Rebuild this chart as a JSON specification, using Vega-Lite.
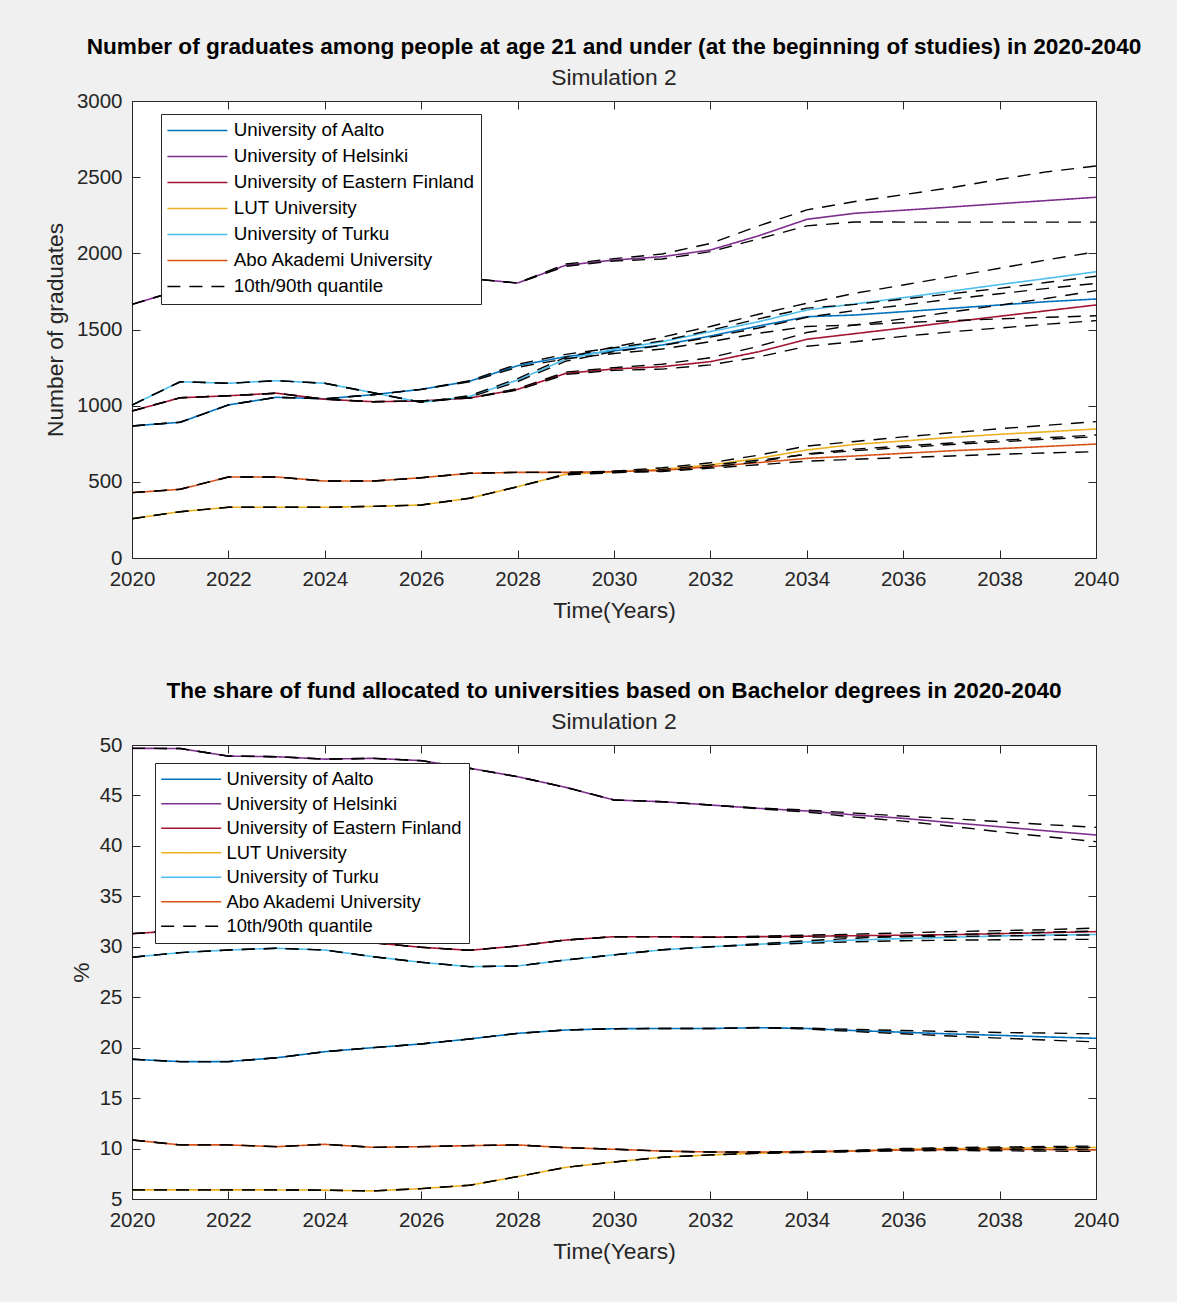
{
"$schema": "https://vega.github.io/schema/vega-lite/v6.json",
"background": "#f0f0f0",
"autosize": {"type": "pad"},
"padding": {"left": 43, "top": 35, "right": 58, "bottom": 46},
"bounds": "flush",
"spacing": 187,
"resolve": {"scale": {"color": "independent", "strokeDash": "independent"}},
"config": {
 "view": {"stroke": "#262626", "strokeWidth": 1, "fill": "white"},
 "axis": {"domain": false, "grid": false, "tickSize": -8, "tickColor": "#262626", "tickWidth": 1, "labelFont": "Liberation Sans", "labelFontSize": 20.5, "labelColor": "#262626", "labelFlush": false, "titleFont": "Liberation Sans", "titleFontSize": 22.8, "titleFontWeight": "normal", "titleColor": "#262626"},
 "axisX": {"labelPadding": 19, "titlePadding": 10},
 "axisY": {"labelPadding": 18, "titlePadding": 6},
 "title": {"font": "Liberation Sans", "fontSize": 22.6, "fontWeight": "bold", "color": "#000000", "subtitleFont": "Liberation Sans", "subtitleFontSize": 22.8, "subtitleColor": "#262626", "anchor": "middle", "frame": "group", "offset": 1, "subtitlePadding": 9},
 "legend": {"labelFont": "Liberation Sans", "labelColor": "#000000", "labelLimit": 400, "fillColor": "white", "strokeColor": "#262626", "cornerRadius": 0}
},
"datasets": {
"g": [
{"n":"University of Aalto","t":2020,"m":867,"lo":867,"hi":867},
{"n":"University of Aalto","t":2021,"m":891,"lo":891,"hi":891},
{"n":"University of Aalto","t":2022,"m":1005,"lo":1005,"hi":1005},
{"n":"University of Aalto","t":2023,"m":1055,"lo":1055,"hi":1055},
{"n":"University of Aalto","t":2024,"m":1045,"lo":1045,"hi":1045},
{"n":"University of Aalto","t":2025,"m":1072,"lo":1072,"hi":1072},
{"n":"University of Aalto","t":2026,"m":1107,"lo":1107,"hi":1107},
{"n":"University of Aalto","t":2027,"m":1160,"lo":1156,"hi":1164},
{"n":"University of Aalto","t":2028,"m":1262,"lo":1252,"hi":1272},
{"n":"University of Aalto","t":2029,"m":1322,"lo":1308,"hi":1337},
{"n":"University of Aalto","t":2030,"m":1360,"lo":1342,"hi":1380},
{"n":"University of Aalto","t":2031,"m":1398,"lo":1372,"hi":1425},
{"n":"University of Aalto","t":2032,"m":1457,"lo":1420,"hi":1495},
{"n":"University of Aalto","t":2033,"m":1523,"lo":1475,"hi":1570},
{"n":"University of Aalto","t":2034,"m":1584,"lo":1520,"hi":1640},
{"n":"University of Aalto","t":2035,"m":1595,"lo":1530,"hi":1665},
{"n":"University of Aalto","t":2036,"m":1617,"lo":1545,"hi":1700},
{"n":"University of Aalto","t":2037,"m":1639,"lo":1558,"hi":1735},
{"n":"University of Aalto","t":2038,"m":1661,"lo":1570,"hi":1770},
{"n":"University of Aalto","t":2039,"m":1683,"lo":1580,"hi":1810},
{"n":"University of Aalto","t":2040,"m":1700,"lo":1590,"hi":1850},
{"n":"University of Helsinki","t":2020,"m":1665,"lo":1665,"hi":1665},
{"n":"University of Helsinki","t":2021,"m":1760,"lo":1760,"hi":1760},
{"n":"University of Helsinki","t":2022,"m":1775,"lo":1775,"hi":1775},
{"n":"University of Helsinki","t":2023,"m":1785,"lo":1785,"hi":1785},
{"n":"University of Helsinki","t":2024,"m":1790,"lo":1790,"hi":1790},
{"n":"University of Helsinki","t":2025,"m":1790,"lo":1790,"hi":1790},
{"n":"University of Helsinki","t":2026,"m":1800,"lo":1800,"hi":1800},
{"n":"University of Helsinki","t":2027,"m":1835,"lo":1835,"hi":1835},
{"n":"University of Helsinki","t":2028,"m":1805,"lo":1805,"hi":1805},
{"n":"University of Helsinki","t":2029,"m":1922,"lo":1915,"hi":1930},
{"n":"University of Helsinki","t":2030,"m":1956,"lo":1950,"hi":1965},
{"n":"University of Helsinki","t":2031,"m":1978,"lo":1963,"hi":1996},
{"n":"University of Helsinki","t":2032,"m":2022,"lo":2011,"hi":2065},
{"n":"University of Helsinki","t":2033,"m":2115,"lo":2095,"hi":2180},
{"n":"University of Helsinki","t":2034,"m":2223,"lo":2180,"hi":2285},
{"n":"University of Helsinki","t":2035,"m":2263,"lo":2206,"hi":2340},
{"n":"University of Helsinki","t":2036,"m":2283,"lo":2205,"hi":2385},
{"n":"University of Helsinki","t":2037,"m":2304,"lo":2205,"hi":2431},
{"n":"University of Helsinki","t":2038,"m":2326,"lo":2205,"hi":2486},
{"n":"University of Helsinki","t":2039,"m":2347,"lo":2205,"hi":2536},
{"n":"University of Helsinki","t":2040,"m":2368,"lo":2205,"hi":2573},
{"n":"University of Eastern Finland","t":2020,"m":965,"lo":965,"hi":965},
{"n":"University of Eastern Finland","t":2021,"m":1052,"lo":1052,"hi":1052},
{"n":"University of Eastern Finland","t":2022,"m":1065,"lo":1065,"hi":1065},
{"n":"University of Eastern Finland","t":2023,"m":1082,"lo":1082,"hi":1082},
{"n":"University of Eastern Finland","t":2024,"m":1042,"lo":1042,"hi":1042},
{"n":"University of Eastern Finland","t":2025,"m":1026,"lo":1026,"hi":1026},
{"n":"University of Eastern Finland","t":2026,"m":1031,"lo":1031,"hi":1031},
{"n":"University of Eastern Finland","t":2027,"m":1050,"lo":1050,"hi":1050},
{"n":"University of Eastern Finland","t":2028,"m":1107,"lo":1102,"hi":1112},
{"n":"University of Eastern Finland","t":2029,"m":1212,"lo":1205,"hi":1220},
{"n":"University of Eastern Finland","t":2030,"m":1241,"lo":1232,"hi":1250},
{"n":"University of Eastern Finland","t":2031,"m":1256,"lo":1240,"hi":1272},
{"n":"University of Eastern Finland","t":2032,"m":1289,"lo":1268,"hi":1315},
{"n":"University of Eastern Finland","t":2033,"m":1354,"lo":1320,"hi":1390},
{"n":"University of Eastern Finland","t":2034,"m":1436,"lo":1390,"hi":1480},
{"n":"University of Eastern Finland","t":2035,"m":1473,"lo":1420,"hi":1530},
{"n":"University of Eastern Finland","t":2036,"m":1510,"lo":1455,"hi":1570},
{"n":"University of Eastern Finland","t":2037,"m":1549,"lo":1485,"hi":1615},
{"n":"University of Eastern Finland","t":2038,"m":1587,"lo":1510,"hi":1660},
{"n":"University of Eastern Finland","t":2039,"m":1624,"lo":1535,"hi":1705},
{"n":"University of Eastern Finland","t":2040,"m":1661,"lo":1558,"hi":1755},
{"n":"LUT University","t":2020,"m":258,"lo":258,"hi":258},
{"n":"LUT University","t":2021,"m":304,"lo":304,"hi":304},
{"n":"LUT University","t":2022,"m":333,"lo":333,"hi":333},
{"n":"LUT University","t":2023,"m":333,"lo":333,"hi":333},
{"n":"LUT University","t":2024,"m":333,"lo":333,"hi":333},
{"n":"LUT University","t":2025,"m":339,"lo":339,"hi":339},
{"n":"LUT University","t":2026,"m":348,"lo":348,"hi":348},
{"n":"LUT University","t":2027,"m":392,"lo":392,"hi":392},
{"n":"LUT University","t":2028,"m":468,"lo":468,"hi":468},
{"n":"LUT University","t":2029,"m":549,"lo":546,"hi":552},
{"n":"LUT University","t":2030,"m":565,"lo":560,"hi":570},
{"n":"LUT University","t":2031,"m":582,"lo":572,"hi":592},
{"n":"LUT University","t":2032,"m":611,"lo":597,"hi":625},
{"n":"LUT University","t":2033,"m":654,"lo":632,"hi":675},
{"n":"LUT University","t":2034,"m":709,"lo":683,"hi":735},
{"n":"LUT University","t":2035,"m":746,"lo":715,"hi":765},
{"n":"LUT University","t":2036,"m":768,"lo":735,"hi":795},
{"n":"LUT University","t":2037,"m":792,"lo":755,"hi":822},
{"n":"LUT University","t":2038,"m":812,"lo":772,"hi":849},
{"n":"LUT University","t":2039,"m":829,"lo":790,"hi":872},
{"n":"LUT University","t":2040,"m":847,"lo":807,"hi":895},
{"n":"University of Turku","t":2020,"m":1004,"lo":1004,"hi":1004},
{"n":"University of Turku","t":2021,"m":1157,"lo":1157,"hi":1157},
{"n":"University of Turku","t":2022,"m":1147,"lo":1147,"hi":1147},
{"n":"University of Turku","t":2023,"m":1164,"lo":1164,"hi":1164},
{"n":"University of Turku","t":2024,"m":1147,"lo":1147,"hi":1147},
{"n":"University of Turku","t":2025,"m":1085,"lo":1085,"hi":1085},
{"n":"University of Turku","t":2026,"m":1022,"lo":1022,"hi":1022},
{"n":"University of Turku","t":2027,"m":1060,"lo":1055,"hi":1065},
{"n":"University of Turku","t":2028,"m":1168,"lo":1158,"hi":1178},
{"n":"University of Turku","t":2029,"m":1305,"lo":1292,"hi":1318},
{"n":"University of Turku","t":2030,"m":1370,"lo":1355,"hi":1385},
{"n":"University of Turku","t":2031,"m":1420,"lo":1395,"hi":1450},
{"n":"University of Turku","t":2032,"m":1486,"lo":1450,"hi":1520},
{"n":"University of Turku","t":2033,"m":1551,"lo":1510,"hi":1600},
{"n":"University of Turku","t":2034,"m":1628,"lo":1580,"hi":1672},
{"n":"University of Turku","t":2035,"m":1668,"lo":1625,"hi":1738},
{"n":"University of Turku","t":2036,"m":1709,"lo":1660,"hi":1792},
{"n":"University of Turku","t":2037,"m":1752,"lo":1700,"hi":1847},
{"n":"University of Turku","t":2038,"m":1795,"lo":1735,"hi":1902},
{"n":"University of Turku","t":2039,"m":1836,"lo":1770,"hi":1958},
{"n":"University of Turku","t":2040,"m":1879,"lo":1803,"hi":2010},
{"n":"Abo Akademi University","t":2020,"m":429,"lo":429,"hi":429},
{"n":"Abo Akademi University","t":2021,"m":451,"lo":451,"hi":451},
{"n":"Abo Akademi University","t":2022,"m":532,"lo":532,"hi":532},
{"n":"Abo Akademi University","t":2023,"m":532,"lo":532,"hi":532},
{"n":"Abo Akademi University","t":2024,"m":505,"lo":505,"hi":505},
{"n":"Abo Akademi University","t":2025,"m":505,"lo":505,"hi":505},
{"n":"Abo Akademi University","t":2026,"m":527,"lo":527,"hi":527},
{"n":"Abo Akademi University","t":2027,"m":556,"lo":556,"hi":556},
{"n":"Abo Akademi University","t":2028,"m":562,"lo":562,"hi":562},
{"n":"Abo Akademi University","t":2029,"m":562,"lo":562,"hi":562},
{"n":"Abo Akademi University","t":2030,"m":567,"lo":563,"hi":570},
{"n":"Abo Akademi University","t":2031,"m":575,"lo":568,"hi":582},
{"n":"Abo Akademi University","t":2032,"m":600,"lo":590,"hi":610},
{"n":"Abo Akademi University","t":2033,"m":626,"lo":612,"hi":642},
{"n":"Abo Akademi University","t":2034,"m":654,"lo":636,"hi":680},
{"n":"Abo Akademi University","t":2035,"m":670,"lo":648,"hi":705},
{"n":"Abo Akademi University","t":2036,"m":687,"lo":659,"hi":725},
{"n":"Abo Akademi University","t":2037,"m":704,"lo":670,"hi":745},
{"n":"Abo Akademi University","t":2038,"m":718,"lo":681,"hi":762},
{"n":"Abo Akademi University","t":2039,"m":733,"lo":690,"hi":780},
{"n":"Abo Akademi University","t":2040,"m":748,"lo":698,"hi":796}
],
"s": [
{"n":"University of Aalto","t":2020,"m":18.85,"lo":18.85,"hi":18.85},
{"n":"University of Aalto","t":2021,"m":18.62,"lo":18.62,"hi":18.62},
{"n":"University of Aalto","t":2022,"m":18.62,"lo":18.62,"hi":18.62},
{"n":"University of Aalto","t":2023,"m":19.0,"lo":19.0,"hi":19.0},
{"n":"University of Aalto","t":2024,"m":19.6,"lo":19.6,"hi":19.6},
{"n":"University of Aalto","t":2025,"m":20.0,"lo":20.0,"hi":20.0},
{"n":"University of Aalto","t":2026,"m":20.37,"lo":20.37,"hi":20.37},
{"n":"University of Aalto","t":2027,"m":20.86,"lo":20.86,"hi":20.86},
{"n":"University of Aalto","t":2028,"m":21.42,"lo":21.42,"hi":21.42},
{"n":"University of Aalto","t":2029,"m":21.75,"lo":21.75,"hi":21.75},
{"n":"University of Aalto","t":2030,"m":21.88,"lo":21.88,"hi":21.88},
{"n":"University of Aalto","t":2031,"m":21.9,"lo":21.9,"hi":21.9},
{"n":"University of Aalto","t":2032,"m":21.9,"lo":21.9,"hi":21.9},
{"n":"University of Aalto","t":2033,"m":21.98,"lo":21.96,"hi":22.0},
{"n":"University of Aalto","t":2034,"m":21.9,"lo":21.85,"hi":21.95},
{"n":"University of Aalto","t":2035,"m":21.69,"lo":21.6,"hi":21.8},
{"n":"University of Aalto","t":2036,"m":21.53,"lo":21.38,"hi":21.7},
{"n":"University of Aalto","t":2037,"m":21.36,"lo":21.15,"hi":21.6},
{"n":"University of Aalto","t":2038,"m":21.22,"lo":20.95,"hi":21.5},
{"n":"University of Aalto","t":2039,"m":21.06,"lo":20.75,"hi":21.45},
{"n":"University of Aalto","t":2040,"m":20.93,"lo":20.57,"hi":21.36},
{"n":"University of Helsinki","t":2020,"m":49.67,"lo":49.67,"hi":49.67},
{"n":"University of Helsinki","t":2021,"m":49.65,"lo":49.65,"hi":49.65},
{"n":"University of Helsinki","t":2022,"m":48.9,"lo":48.9,"hi":48.9},
{"n":"University of Helsinki","t":2023,"m":48.84,"lo":48.84,"hi":48.84},
{"n":"University of Helsinki","t":2024,"m":48.6,"lo":48.6,"hi":48.6},
{"n":"University of Helsinki","t":2025,"m":48.68,"lo":48.68,"hi":48.68},
{"n":"University of Helsinki","t":2026,"m":48.45,"lo":48.45,"hi":48.45},
{"n":"University of Helsinki","t":2027,"m":47.7,"lo":47.7,"hi":47.7},
{"n":"University of Helsinki","t":2028,"m":46.86,"lo":46.86,"hi":46.86},
{"n":"University of Helsinki","t":2029,"m":45.8,"lo":45.8,"hi":45.8},
{"n":"University of Helsinki","t":2030,"m":44.55,"lo":44.55,"hi":44.55},
{"n":"University of Helsinki","t":2031,"m":44.38,"lo":44.38,"hi":44.38},
{"n":"University of Helsinki","t":2032,"m":44.05,"lo":44.05,"hi":44.05},
{"n":"University of Helsinki","t":2033,"m":43.72,"lo":43.68,"hi":43.75},
{"n":"University of Helsinki","t":2034,"m":43.46,"lo":43.35,"hi":43.55},
{"n":"University of Helsinki","t":2035,"m":43.06,"lo":42.85,"hi":43.25},
{"n":"University of Helsinki","t":2036,"m":42.73,"lo":42.45,"hi":42.95},
{"n":"University of Helsinki","t":2037,"m":42.3,"lo":41.95,"hi":42.7},
{"n":"University of Helsinki","t":2038,"m":41.9,"lo":41.4,"hi":42.4},
{"n":"University of Helsinki","t":2039,"m":41.48,"lo":40.9,"hi":42.1},
{"n":"University of Helsinki","t":2040,"m":41.08,"lo":40.42,"hi":41.84},
{"n":"University of Eastern Finland","t":2020,"m":31.3,"lo":31.3,"hi":31.3},
{"n":"University of Eastern Finland","t":2021,"m":31.6,"lo":31.6,"hi":31.6},
{"n":"University of Eastern Finland","t":2022,"m":31.6,"lo":31.6,"hi":31.6},
{"n":"University of Eastern Finland","t":2023,"m":31.3,"lo":31.3,"hi":31.3},
{"n":"University of Eastern Finland","t":2024,"m":30.9,"lo":30.9,"hi":30.9},
{"n":"University of Eastern Finland","t":2025,"m":30.4,"lo":30.4,"hi":30.4},
{"n":"University of Eastern Finland","t":2026,"m":29.95,"lo":29.95,"hi":29.95},
{"n":"University of Eastern Finland","t":2027,"m":29.65,"lo":29.65,"hi":29.65},
{"n":"University of Eastern Finland","t":2028,"m":30.08,"lo":30.08,"hi":30.08},
{"n":"University of Eastern Finland","t":2029,"m":30.67,"lo":30.67,"hi":30.67},
{"n":"University of Eastern Finland","t":2030,"m":31.0,"lo":31.0,"hi":31.0},
{"n":"University of Eastern Finland","t":2031,"m":31.0,"lo":31.0,"hi":31.0},
{"n":"University of Eastern Finland","t":2032,"m":30.95,"lo":30.95,"hi":30.95},
{"n":"University of Eastern Finland","t":2033,"m":31.0,"lo":30.95,"hi":31.05},
{"n":"University of Eastern Finland","t":2034,"m":31.05,"lo":30.95,"hi":31.15},
{"n":"University of Eastern Finland","t":2035,"m":31.1,"lo":30.98,"hi":31.25},
{"n":"University of Eastern Finland","t":2036,"m":31.15,"lo":31.0,"hi":31.38},
{"n":"University of Eastern Finland","t":2037,"m":31.2,"lo":31.02,"hi":31.5},
{"n":"University of Eastern Finland","t":2038,"m":31.3,"lo":31.08,"hi":31.6},
{"n":"University of Eastern Finland","t":2039,"m":31.4,"lo":31.12,"hi":31.7},
{"n":"University of Eastern Finland","t":2040,"m":31.5,"lo":31.18,"hi":31.85},
{"n":"LUT University","t":2020,"m":5.9,"lo":5.9,"hi":5.9},
{"n":"LUT University","t":2021,"m":5.9,"lo":5.9,"hi":5.9},
{"n":"LUT University","t":2022,"m":5.9,"lo":5.9,"hi":5.9},
{"n":"LUT University","t":2023,"m":5.9,"lo":5.9,"hi":5.9},
{"n":"LUT University","t":2024,"m":5.88,"lo":5.88,"hi":5.88},
{"n":"LUT University","t":2025,"m":5.8,"lo":5.8,"hi":5.8},
{"n":"LUT University","t":2026,"m":6.03,"lo":6.03,"hi":6.03},
{"n":"LUT University","t":2027,"m":6.36,"lo":6.36,"hi":6.36},
{"n":"LUT University","t":2028,"m":7.22,"lo":7.22,"hi":7.22},
{"n":"LUT University","t":2029,"m":8.14,"lo":8.14,"hi":8.14},
{"n":"LUT University","t":2030,"m":8.67,"lo":8.67,"hi":8.67},
{"n":"LUT University","t":2031,"m":9.14,"lo":9.14,"hi":9.14},
{"n":"LUT University","t":2032,"m":9.37,"lo":9.37,"hi":9.37},
{"n":"LUT University","t":2033,"m":9.54,"lo":9.52,"hi":9.56},
{"n":"LUT University","t":2034,"m":9.66,"lo":9.62,"hi":9.7},
{"n":"LUT University","t":2035,"m":9.76,"lo":9.7,"hi":9.82},
{"n":"LUT University","t":2036,"m":9.93,"lo":9.85,"hi":10.0},
{"n":"LUT University","t":2037,"m":10.0,"lo":9.9,"hi":10.1},
{"n":"LUT University","t":2038,"m":10.03,"lo":9.9,"hi":10.15},
{"n":"LUT University","t":2039,"m":10.08,"lo":9.92,"hi":10.2},
{"n":"LUT University","t":2040,"m":10.1,"lo":9.95,"hi":10.25},
{"n":"University of Turku","t":2020,"m":28.96,"lo":28.96,"hi":28.96},
{"n":"University of Turku","t":2021,"m":29.42,"lo":29.42,"hi":29.42},
{"n":"University of Turku","t":2022,"m":29.68,"lo":29.68,"hi":29.68},
{"n":"University of Turku","t":2023,"m":29.85,"lo":29.85,"hi":29.85},
{"n":"University of Turku","t":2024,"m":29.68,"lo":29.68,"hi":29.68},
{"n":"University of Turku","t":2025,"m":29.02,"lo":29.02,"hi":29.02},
{"n":"University of Turku","t":2026,"m":28.46,"lo":28.46,"hi":28.46},
{"n":"University of Turku","t":2027,"m":28.03,"lo":28.03,"hi":28.03},
{"n":"University of Turku","t":2028,"m":28.1,"lo":28.1,"hi":28.1},
{"n":"University of Turku","t":2029,"m":28.69,"lo":28.69,"hi":28.69},
{"n":"University of Turku","t":2030,"m":29.2,"lo":29.2,"hi":29.2},
{"n":"University of Turku","t":2031,"m":29.7,"lo":29.7,"hi":29.7},
{"n":"University of Turku","t":2032,"m":30.0,"lo":30.0,"hi":30.0},
{"n":"University of Turku","t":2033,"m":30.25,"lo":30.2,"hi":30.3},
{"n":"University of Turku","t":2034,"m":30.48,"lo":30.35,"hi":30.6},
{"n":"University of Turku","t":2035,"m":30.67,"lo":30.5,"hi":30.85},
{"n":"University of Turku","t":2036,"m":30.81,"lo":30.6,"hi":31.05},
{"n":"University of Turku","t":2037,"m":30.94,"lo":30.65,"hi":31.2},
{"n":"University of Turku","t":2038,"m":31.07,"lo":30.7,"hi":31.35},
{"n":"University of Turku","t":2039,"m":31.17,"lo":30.72,"hi":31.45},
{"n":"University of Turku","t":2040,"m":31.22,"lo":30.74,"hi":31.55},
{"n":"Abo Akademi University","t":2020,"m":10.85,"lo":10.85,"hi":10.85},
{"n":"Abo Akademi University","t":2021,"m":10.36,"lo":10.36,"hi":10.36},
{"n":"Abo Akademi University","t":2022,"m":10.36,"lo":10.36,"hi":10.36},
{"n":"Abo Akademi University","t":2023,"m":10.19,"lo":10.19,"hi":10.19},
{"n":"Abo Akademi University","t":2024,"m":10.42,"lo":10.42,"hi":10.42},
{"n":"Abo Akademi University","t":2025,"m":10.12,"lo":10.12,"hi":10.12},
{"n":"Abo Akademi University","t":2026,"m":10.19,"lo":10.19,"hi":10.19},
{"n":"Abo Akademi University","t":2027,"m":10.29,"lo":10.29,"hi":10.29},
{"n":"Abo Akademi University","t":2028,"m":10.36,"lo":10.36,"hi":10.36},
{"n":"Abo Akademi University","t":2029,"m":10.09,"lo":10.09,"hi":10.09},
{"n":"Abo Akademi University","t":2030,"m":9.93,"lo":9.93,"hi":9.93},
{"n":"Abo Akademi University","t":2031,"m":9.75,"lo":9.75,"hi":9.75},
{"n":"Abo Akademi University","t":2032,"m":9.66,"lo":9.66,"hi":9.66},
{"n":"Abo Akademi University","t":2033,"m":9.65,"lo":9.63,"hi":9.67},
{"n":"Abo Akademi University","t":2034,"m":9.68,"lo":9.64,"hi":9.72},
{"n":"Abo Akademi University","t":2035,"m":9.76,"lo":9.7,"hi":9.82},
{"n":"Abo Akademi University","t":2036,"m":9.86,"lo":9.78,"hi":9.95},
{"n":"Abo Akademi University","t":2037,"m":9.9,"lo":9.8,"hi":10.02},
{"n":"Abo Akademi University","t":2038,"m":9.9,"lo":9.78,"hi":10.05},
{"n":"Abo Akademi University","t":2039,"m":9.9,"lo":9.75,"hi":10.1},
{"n":"Abo Akademi University","t":2040,"m":9.86,"lo":9.72,"hi":10.12}
]
},
"vconcat": [
{
 "width": 964, "height": 457,
 "title": {"text": "Number of graduates among people at age 21 and under (at the beginning of studies) in 2020-2040", "subtitle": "Simulation 2"},
 "data": {"name": "g"},
 "resolve": {"axis": {"x": "independent", "y": "independent"}},
 "layer": [
  {"mark": {"type": "line", "strokeWidth": 1.6},
   "encoding": {
    "x": {"field": "t", "type": "quantitative", "scale": {"domain": [2020, 2040], "nice": false}, "axis": {"orient": "bottom", "title": "Time(Years)", "values": [2020,2022,2024,2026,2028,2030,2032,2034,2036,2038,2040], "format": "d"}},
    "y": {"field": "m", "type": "quantitative", "scale": {"domain": [0, 3000], "nice": false}, "axis": {"orient": "left", "title": "Number of graduates", "titlePadding": 9, "values": [0,500,1000,1500,2000,2500,3000], "format": "d"}},
    "color": {"field": "n", "type": "nominal",
      "scale": {"domain": ["University of Aalto","University of Helsinki","University of Eastern Finland","LUT University","University of Turku","Abo Akademi University","10th/90th quantile"], "range": ["#0072BD","#7E2F8E","#A2142F","#EDB120","#4DBEEE","#D95319","#000000"]},
      "legend": {"title": null, "orient": "none", "legendX": 29, "legendY": 13, "labelFontSize": 18.8, "symbolType": "M-5,0H5", "symbolSize": 144, "symbolStrokeWidth": 1.5, "padding": 7, "rowPadding": 6, "labelOffset": 27, "symbolOffset": 20}},
    "strokeDash": {"field": "n", "type": "nominal",
      "scale": {"domain": ["University of Aalto","University of Helsinki","University of Eastern Finland","LUT University","University of Turku","Abo Akademi University","10th/90th quantile"], "range": [[1,0],[1,0],[1,0],[1,0],[1,0],[1,0],[13,9]]},
      "legend": {"title": null, "orient": "none", "legendX": 29, "legendY": 13, "labelFontSize": 18.8, "symbolType": "M-5,0H5", "symbolSize": 144, "symbolStrokeWidth": 1.5, "padding": 7, "rowPadding": 6, "labelOffset": 27, "symbolOffset": 20}}
   }},
  {"mark": {"type": "line", "strokeWidth": 1.4, "color": "#000000", "strokeDash": [13, 9]},
   "encoding": {
    "x": {"field": "t", "type": "quantitative", "scale": {"domain": [2020, 2040], "nice": false}, "axis": null},
    "y": {"field": "lo", "type": "quantitative", "scale": {"domain": [0, 3000], "nice": false}, "axis": null},
    "detail": {"field": "n"}
   }},
  {"mark": {"type": "line", "strokeWidth": 1.4, "color": "#000000", "strokeDash": [13, 9]},
   "encoding": {
    "x": {"field": "t", "type": "quantitative", "scale": {"domain": [2020, 2040], "nice": false}, "axis": {"orient": "top", "labels": false, "title": null, "values": [2020,2022,2024,2026,2028,2030,2032,2034,2036,2038,2040]}},
    "y": {"field": "hi", "type": "quantitative", "scale": {"domain": [0, 3000], "nice": false}, "axis": {"orient": "right", "labels": false, "title": null, "values": [0,500,1000,1500,2000,2500,3000]}},
    "detail": {"field": "n"}
   }}
 ]
},
{
 "width": 964, "height": 454,
 "title": {"text": "The share of fund allocated to universities based on Bachelor degrees in 2020-2040", "subtitle": "Simulation 2"},
 "data": {"name": "s"},
 "resolve": {"axis": {"x": "independent", "y": "independent"}},
 "layer": [
  {"mark": {"type": "line", "strokeWidth": 1.6},
   "encoding": {
    "x": {"field": "t", "type": "quantitative", "scale": {"domain": [2020, 2040], "nice": false}, "axis": {"orient": "bottom", "title": "Time(Years)", "values": [2020,2022,2024,2026,2028,2030,2032,2034,2036,2038,2040], "format": "d"}},
    "y": {"field": "m", "type": "quantitative", "scale": {"domain": [5, 50], "nice": false, "zero": false}, "axis": {"orient": "left", "title": "%", "values": [5,10,15,20,25,30,35,40,45,50]}},
    "color": {"field": "n", "type": "nominal",
      "scale": {"domain": ["University of Aalto","University of Helsinki","University of Eastern Finland","LUT University","University of Turku","Abo Akademi University","10th/90th quantile"], "range": ["#0072BD","#7E2F8E","#A2142F","#EDB120","#4DBEEE","#D95319","#000000"]},
      "legend": {"title": null, "orient": "none", "legendX": 23, "legendY": 18, "labelFontSize": 18.4, "symbolType": "M-5,0H5", "symbolSize": 144, "symbolStrokeWidth": 1.5, "padding": 7, "rowPadding": 5.5, "labelOffset": 26, "symbolOffset": 20}},
    "strokeDash": {"field": "n", "type": "nominal",
      "scale": {"domain": ["University of Aalto","University of Helsinki","University of Eastern Finland","LUT University","University of Turku","Abo Akademi University","10th/90th quantile"], "range": [[1,0],[1,0],[1,0],[1,0],[1,0],[1,0],[13,9]]},
      "legend": {"title": null, "orient": "none", "legendX": 23, "legendY": 18, "labelFontSize": 18.4, "symbolType": "M-5,0H5", "symbolSize": 144, "symbolStrokeWidth": 1.5, "padding": 7, "rowPadding": 5.5, "labelOffset": 26, "symbolOffset": 20}}
   }},
  {"mark": {"type": "line", "strokeWidth": 1.4, "color": "#000000", "strokeDash": [13, 9]},
   "encoding": {
    "x": {"field": "t", "type": "quantitative", "scale": {"domain": [2020, 2040], "nice": false}, "axis": null},
    "y": {"field": "lo", "type": "quantitative", "scale": {"domain": [5, 50], "nice": false, "zero": false}, "axis": null},
    "detail": {"field": "n"}
   }},
  {"mark": {"type": "line", "strokeWidth": 1.4, "color": "#000000", "strokeDash": [13, 9]},
   "encoding": {
    "x": {"field": "t", "type": "quantitative", "scale": {"domain": [2020, 2040], "nice": false}, "axis": {"orient": "top", "labels": false, "title": null, "values": [2020,2022,2024,2026,2028,2030,2032,2034,2036,2038,2040]}},
    "y": {"field": "hi", "type": "quantitative", "scale": {"domain": [5, 50], "nice": false, "zero": false}, "axis": {"orient": "right", "labels": false, "title": null, "values": [5,10,15,20,25,30,35,40,45,50]}},
    "detail": {"field": "n"}
   }}
 ]
}
]
}
